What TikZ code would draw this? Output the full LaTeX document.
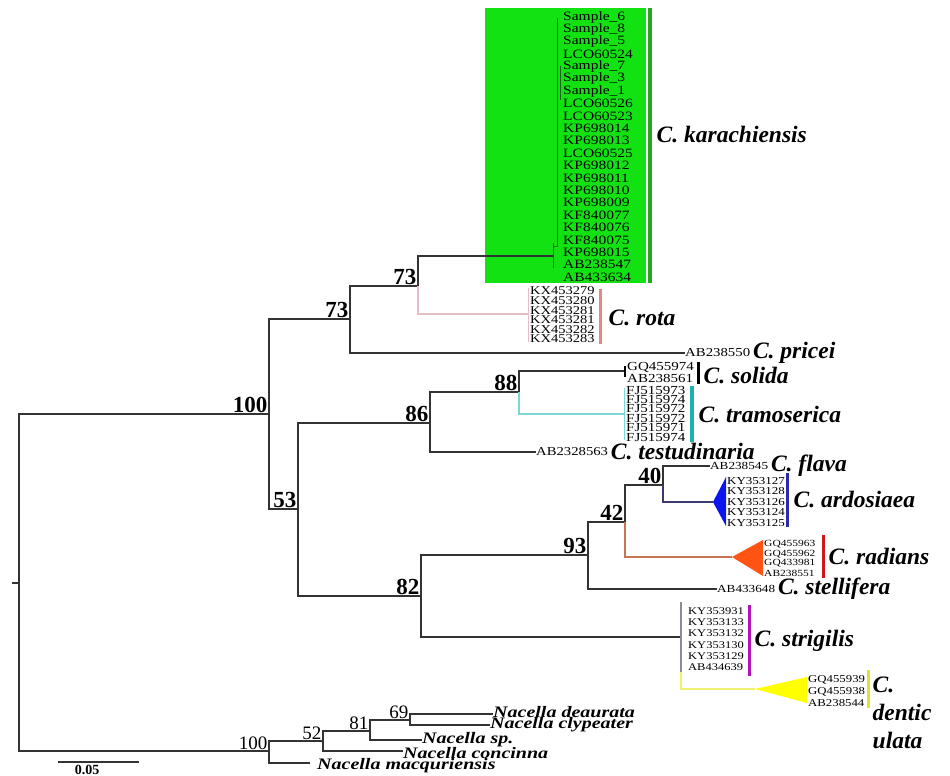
\documentclass[tikz,border=0pt]{standalone}
\usepackage{fontspec}
\usepackage{graphicx}
\setmainfont{Liberation Serif}
\usetikzlibrary{positioning}
\definecolor{cTree}{HTML}{333333}
\definecolor{cKara}{HTML}{12E212}
\definecolor{cKaraBar}{HTML}{22A822}
\definecolor{cRota}{HTML}{E6BCC4}
\definecolor{cRotaBar}{HTML}{E88484}
\definecolor{cTramo}{HTML}{7ED6D6}
\definecolor{cTramoBar}{HTML}{1FB0B0}
\definecolor{cArdo}{HTML}{0A14F0}
\definecolor{cArdoLine}{HTML}{3A3A70}
\definecolor{cArdoBar}{HTML}{2A2AB0}
\definecolor{cRadi}{HTML}{FF5414}
\definecolor{cRadiLine}{HTML}{C87452}
\definecolor{cRadiBar}{HTML}{D01818}
\definecolor{cStriLine}{HTML}{8E8A96}
\definecolor{cStriBar}{HTML}{B014B8}
\definecolor{cDent}{HTML}{FFFF00}
\definecolor{cDentLine}{HTML}{F0F070}
\definecolor{cDentBar}{HTML}{E2E22A}
\newcommand{\sq}[1]{\scalebox{1}[0.82]{#1}}
\newcommand{\sqn}[1]{\scalebox{1}[0.8]{#1}}

\begin{document}
\begin{tikzpicture}[
    x=1pt, y=-1pt,
    branch/.style={draw=cTree, line width=1.3pt},
    inner/.style={draw=cTree!80!green, line width=0.8pt},
    boot/.style={font=\fontsize{23}{23}\selectfont\bfseries, anchor=south east, inner sep=1.5pt},
    bootn/.style={font=\fontsize{19}{19}\selectfont, anchor=south east, inner sep=1.5pt},
    spec/.style={font=\fontsize{23.5}{23.5}\selectfont\bfseries\itshape, anchor=west, inner sep=0.5pt},
    specn/.style={font=\fontsize{20}{20}\selectfont\bfseries\itshape, anchor=west, inner sep=0pt},
    acc/.style={font=\fontsize{#1}{#1}\selectfont, anchor=west, inner sep=0pt},
    acc/.default=14,
    bar/.style={line width=3.5pt},
]

% ===================== fondo =====================
\useasboundingbox (0,0) rectangle (950,776);
\fill[white] (0,0) rectangle (950,776);

% ===================== nodos internos =====================
\coordinate (root) at (19,583);
\coordinate (rootend) at (12,583);
\coordinate (n100) at (269,414);
\coordinate (n73a) at (350,319);
\coordinate (n73b) at (418,286);
\coordinate (n53) at (298,509);
\coordinate (n86) at (430,423);
\coordinate (n88) at (519,392);
\coordinate (n82) at (421,596);
\coordinate (n93) at (588,555);
\coordinate (n42) at (625,522);
\coordinate (n40) at (663,485);
\coordinate (m100) at (269,751);
\coordinate (m52) at (323,741);
\coordinate (m81) at (370,731);
\coordinate (m69) at (410,720);

% ===================== puntas =====================
\coordinate (tKara) at (553,256);
\coordinate (tRota) at (528,314);
\coordinate (tPric) at (685,353);
\coordinate (tSoli) at (625,371);
\coordinate (tTram) at (624,414);
\coordinate (tTest) at (536,452);
\coordinate (tFlav) at (710,466);
\coordinate (tArdo) at (713,502);
\coordinate (tRadi) at (732,557);
\coordinate (tStel) at (717,589);
\coordinate (tStri) at (681,637);
\coordinate (sTop) at (681,602);
\coordinate (sBot) at (681,672);
\coordinate (tDent) at (755,689);
\coordinate (tDeau) at (493,714);
\coordinate (tClyp) at (490,725);
\coordinate (tNsp) at (422,740);
\coordinate (tConc) at (403,751);
\coordinate (tMacq) at (310,763);

% ===================== C. karachiensis =====================
\fill[cKara] (485,8) rectangle (646,283);
\draw[inner] (553,243) -- (553,268);
\draw[inner] (553,246) -- (557,246) -- (557,18);
\draw[inner] (560,66) -- (560,100);
\foreach \t [count=\i] in {Sample\_6, Sample\_8, Sample\_5, LCO60524, Sample\_7,
    Sample\_3, Sample\_1, LCO60526, LCO60523, KP698014, KP698013, LCO60525,
    KP698012, KP698011, KP698010, KP698009, KF840077, KF840076, KF840075,
    KP698015, AB238547, AB433634} {
    \node[acc=15.5] (k\i) at (563,{17+12.38*(\i-1)}) {\sq{\t}};
}
\draw[bar, cKaraBar] (650,8) -- (650,283);
\node[spec] (sKara) at (656,135) {C. karachiensis};

% ===================== ramas =====================
\draw[branch] (rootend) -- (root);
\draw[branch] (root) |- (n100);
\draw[branch] (root) |- (m100);
\draw[branch] (n100) |- (n73a);
\draw[branch] (n100) |- (n53);
\draw[branch] (n73a) |- (n73b);
\draw[branch] (n73a) |- (tPric);
\draw[branch] (n73b) |- (tKara);
\draw[branch, draw=cRota] (n73b) |- (tRota);
\draw[branch] (n53) |- (n86);
\draw[branch] (n53) |- (n82);
\draw[branch] (n86) |- (n88);
\draw[branch] (n86) |- (tTest);
\draw[branch] (n88) |- (tSoli);
\draw[branch, draw=cTramo] (n88) |- (tTram);
\draw[branch] (n82) |- (n93);
\draw[branch] (n82) |- (tStri);
\draw[branch] (n93) |- (n42);
\draw[branch] (n93) |- (tStel);
\draw[branch] (n42) |- (n40);
\draw[branch, draw=cRadiLine] (n42) |- (tRadi);
\draw[branch] (n40) |- (tFlav);
\draw[branch, draw=cArdoLine] (n40) |- (tArdo);
\draw[branch] (m100) |- (m52);
\draw[branch] (m100) |- (tMacq);
\draw[branch] (m52) |- (m81);
\draw[branch] (m52) |- (tConc);
\draw[branch] (m81) |- (m69);
\draw[branch] (m81) |- (tNsp);
\draw[branch] (m69) |- (tDeau);
\draw[branch] (m69) |- (tClyp);

% ===================== soporte =====================
\node[boot] (b100) at (n100) {100};
\node[boot] (b73a) at (n73a) {73};
\node[boot] (b73b) at (n73b) {73};
\node[boot] (b53) at (n53) {53};
\node[boot] (b86) at (n86) {86};
\node[boot] (b88) at (n88) {88};
\node[boot] (b82) at (n82) {82};
\node[boot] (b93) at (n93) {93};
\node[boot] (b42) at (n42) {42};
\node[boot] (b40) at (n40) {40};
\node[bootn] (c100) at (m100) {100};
\node[bootn] (c52) at (m52) {52};
\node[bootn] (c81) at (m81) {81};
\node[bootn] (c69) at (m69) {69};

% ===================== C. rota =====================
\draw[draw=cRota, line width=1pt] (528,288) -- (528,342);
\foreach \t [count=\i] in {KX453279, KX453280, KX453281, KX453281, KX453282, KX453283} {
    \node[acc=14.5] (r\i) at (530,{291+9.6*(\i-1)}) {\sq{\t}};
}
\draw[bar, cRotaBar, line width=3pt] (600,289) -- (600,344);
\node[spec] (sRota) at (608,318) {C. rota};

% ===================== C. pricei =====================
\node[acc=14.8] (aPric) at (tPric) {\sq{AB238550}};
\node[spec, right=2pt of aPric] (sPric) {C. pricei};

% ===================== C. solida =====================
\draw[line width=2pt] (625,366) -- (625,377);
\node[acc=15] (so1) at (627,367) {\sq{GQ455974}};
\node[acc=15] (so2) at (627,378) {\sq{AB238561}};
\draw[bar, black, line width=3pt] (698,362) -- (698,384);
\node[spec] (sSoli) at (703,376) {C. solida};

% ===================== C. tramoserica =====================
\draw[draw=cTramo, line width=1pt] (624,388) -- (624,440);
\foreach \t [count=\i] in {FJ515973, FJ515974, FJ515972, FJ515972, FJ515971, FJ515974} {
    \node[acc=15] (f\i) at (626,{390+9.4*(\i-1)}) {\sq{\t}};
}
\draw[bar, cTramoBar] (692,386) -- (692,442);
\node[spec] (sTram) at (698,415) {C. tramoserica};

% ===================== C. testudinaria =====================
\node[acc=14.7] (aTest) at (tTest) {\sq{AB2328563}};
\node[spec, right=2pt of aTest] (sTest) {C. testudinaria};

% ===================== C. flava =====================
\node[acc=13.2] (aFlav) at (tFlav) {\sq{AB238545}};
\node[spec, right=2pt of aFlav] (sFlav) {C. flava};

% ===================== C. ardosiaea =====================
\fill[cArdo] (tArdo) -- (726,477) -- (726,526) -- cycle;
\foreach \t [count=\i] in {KY353127, KY353128, KY353126, KY353124, KY353125} {
    \node[acc=13] (y\i) at (727,{481+10.4*(\i-1)}) {\sq{\t}};
}
\draw[bar, cArdoBar, line width=3pt] (787,473) -- (787,527);
\node[spec] (sArdo) at (793,500) {C. ardosiaea};

% ===================== C. radians =====================
\fill[cRadi] (tRadi) -- (763,540) -- (763,576) -- cycle;
\foreach \t [count=\i] in {GQ455963, GQ455962, GQ433981, AB238551} {
    \node[acc=11.5] (g\i) at (764,{544+9.8*(\i-1)}) {\sq{\t}};
}
\draw[bar, cRadiBar, line width=3pt] (823,535) -- (823,578);
\node[spec] (sRadi) at (828,557) {C. radians};

% ===================== C. stellifera =====================
\node[acc=13.2] (aStel) at (tStel) {\sq{AB433648}};
\node[spec, right=2pt of aStel] (sStel) {C. stellifera};

% ===================== C. strigilis =====================
\draw[draw=cStriLine, line width=2.2pt] (sTop) -- (sBot);
\foreach \t [count=\i] in {KY353931, KY353133, KY353132, KY353130, KY353129, AB434639} {
    \node[acc=12.5] (s\i) at (688,{611+11.3*(\i-1)}) {\sq{\t}};
}
\draw[bar, cStriBar, line width=3pt] (749,605) -- (749,676);
\node[spec] (sStri) at (754,641) {C. strigilis};

% ===================== C. denticulata =====================
\draw[draw=cDentLine, line width=1.3pt] (sBot) |- (tDent);
\fill[cDent] (tDent) -- (807,677) -- (807,703) -- cycle;
\foreach \t [count=\i] in {GQ455939, GQ455938, AB238544} {
    \node[acc=12.8] (d\i) at (808,{680+11.5*(\i-1)}) {\sq{\t}};
}
\draw[bar, cDentBar, line width=3pt] (868,670) -- (868,708);
\node[spec, anchor=north west, align=left, font=\fontsize{23.5}{28}\selectfont\bfseries\itshape]
    (sDent) at (872,676) {C.\\dentic\\ulata};

% ===================== Nacella =====================
\node[specn, yshift=2pt] (nDeau) at (tDeau) {\sqn{Nacella deaurata}};
\node[specn] (nClyp) at (tClyp) {\sqn{Nacella clypeater}};
\node[specn] (nNsp) at (tNsp) {\sqn{Nacella sp.}};
\node[specn, yshift=-2pt] (nConc) at (tConc) {\sqn{Nacella concinna}};
\node[specn, xshift=7pt, yshift=-3pt] (nMacq) at (tMacq) {\sqn{Nacella macquriensis}};

% ===================== escala =====================
\coordinate (scA) at (58,762);
\coordinate (scB) at (139,762);
\draw[branch] (scA) -- (scB);
\node[font=\fontsize{14}{14}\selectfont\bfseries, anchor=north, inner sep=0pt] (scL) at (87,765) {0.05};

\end{tikzpicture}
\end{document}
